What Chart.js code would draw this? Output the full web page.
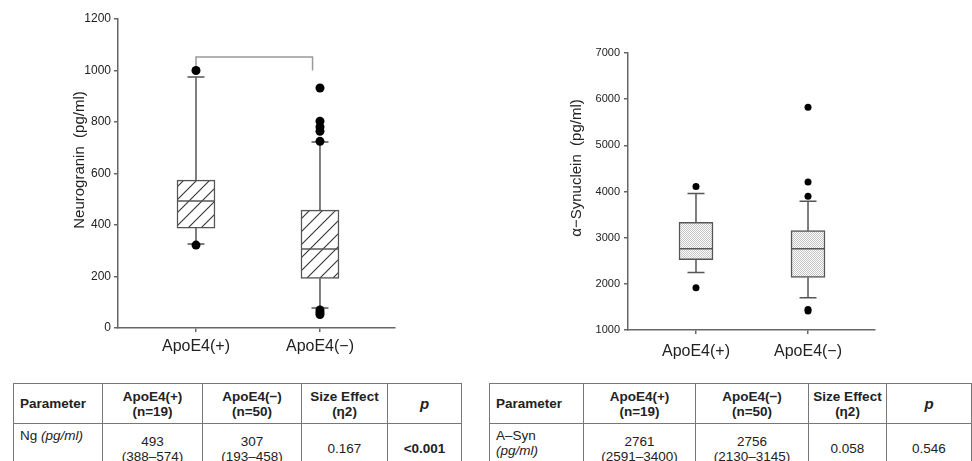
<!DOCTYPE html>
<html>
<head>
<meta charset="utf-8">
<script src="https://cdn.jsdelivr.net/npm/chart.js@4.4.1/dist/chart.umd.min.js"></script>
<style>
	html, body { margin: 0; padding: 0; background: #fff; overflow: hidden; }
	body { width: 972px; height: 461px; position: relative; font-family: 'Liberation Sans', Arial, sans-serif; color: #222; }
	.chart-box { position: absolute; top: 0; width: 486px; height: 370px; }
	#ngBox { left: 0; }
	#synBox { left: 486px; }
	table { position: absolute; top: 383px; border-collapse: collapse; table-layout: fixed; font-size: 13.5px; line-height: 15px; }
	td, th { border: 1px solid #777; padding: 0 2px; text-align: center; vertical-align: middle; white-space: nowrap; }
	th { height: 39px; font-weight: bold; }
	td { height: 45px; }
	th.param, td.param { text-align: left; padding-left: 6px; }
	td.param { vertical-align: top; padding-top: 4px; }
	.p { font-style: italic; font-size: 15px; }
	i { font-style: italic; }
	#ngTable { left: 13px; width: 448px; }
	#synTable { left: 489px; width: 482px; }
</style>
</head>
<body>
<div class="chart-box" id="ngBox"><canvas id="ngChart"></canvas></div>
<div class="chart-box" id="synBox"><canvas id="synChart"></canvas></div>

<table id="ngTable">
	<colgroup><col style="width:89px"><col style="width:100px"><col style="width:99px"><col style="width:86px"><col style="width:74px"></colgroup>
	<tr><th class="param">Parameter</th><th>ApoE4(+)<br>(n=19)</th><th>ApoE4(&minus;)<br>(n=50)</th><th>Size Effect<br>(&eta;2)</th><th class="p">p</th></tr>
	<tr><td class="param">Ng <i>(pg/ml)</i></td><td>493<br>(388&ndash;574)</td><td>307<br>(193&ndash;458)</td><td>0.167</td><td><b>&lt;0.001</b></td></tr>
</table>

<table id="synTable">
	<colgroup><col style="width:94px"><col style="width:112px"><col style="width:113px"><col style="width:78px"><col style="width:85px"></colgroup>
	<tr><th class="param">Parameter</th><th>ApoE4(+)<br>(n=19)</th><th>ApoE4(&minus;)<br>(n=50)</th><th>Size Effect<br>(&eta;2)</th><th class="p">p</th></tr>
	<tr><td class="param">A&ndash;Syn<br><i>(pg/ml)</i></td><td>2761<br>(2591&ndash;3400)</td><td>2756<br>(2130&ndash;3145)</td><td>0.058</td><td>0.546</td></tr>
</table>

<script>
const groups = ['ApoE4(+)', 'ApoE4(\u2212)'];

// Neurogranin (pg/ml)
const ngLow = [326, 78];
const ngQ1 = [388, 193];
const ngMedian = [493, 307];
const ngQ3 = [574, 458];
const ngHigh = [975, 722];
const ngOutliers = [[1000, 322], [932, 803, 781, 764, 725, 70, 60, 52]];
const ngTicks = [0, 200, 400, 600, 800, 1000, 1200];

// significance bracket between the two groups
const bracketX = [1, 1, 1.94, 1.94];
const bracketY = [1010, 1052, 1052, 1000];

// alpha-Synuclein (pg/ml)
const synLow = [2245, 1696];
const synQ1 = [2522, 2137];
const synMedian = [2760, 2761];
const synQ3 = [3333, 3152];
const synHigh = [3957, 3789];
const synOutliers = [[4109, 1913], [5826, 4204, 3898, 1445, 1413]];
const synTicks = [1000, 2000, 3000, 4000, 5000, 6000, 7000];

const fontFamily = "'Liberation Sans', Arial, sans-serif";
const axisColor = '#666';
const boxColor = '#555';
const textColor = '#222';

function makeHatch() {
	let c = document.createElement('canvas');
	c.width = 13;
	c.height = 13;
	let ctx = c.getContext('2d');
	ctx.fillStyle = '#fff';
	ctx.fillRect(0, 0, 13, 13);
	ctx.strokeStyle = '#333';
	ctx.lineWidth = 1.1;
	ctx.beginPath();
	ctx.moveTo(0, 13); ctx.lineTo(13, 0);
	ctx.moveTo(-3, 3); ctx.lineTo(3, -3);
	ctx.moveTo(10, 16); ctx.lineTo(16, 10);
	ctx.stroke();
	return ctx.createPattern(c, 'repeat');
}

function makeStipple() {
	let c = document.createElement('canvas');
	c.width = 2;
	c.height = 2;
	let ctx = c.getContext('2d');
	ctx.fillStyle = '#fff';
	ctx.fillRect(0, 0, 2, 2);
	ctx.fillStyle = '#c4c4c4';
	ctx.fillRect(0, 0, 1, 1);
	ctx.fillRect(1, 1, 1, 1);
	return ctx.createPattern(c, 'repeat');
}

// whiskers, caps, medians and rotated y title, all placed through the chart scales
function boxPlugin(low, q1, median, q3, high, capHalf, boxHalf, title, titleX, titleY, titleSize) {
	return {
		id: 'boxExtras',
		beforeDatasetsDraw(chart) {
			const ctx = chart.ctx;
			const x = chart.scales.x;
			const y = chart.scales.y;
			ctx.save();
			ctx.strokeStyle = boxColor;
			ctx.lineWidth = 1.5;
			for(let i = 0; i < low.length; i++) {
				let px = x.getPixelForValue(i + 1);
				ctx.beginPath();
				ctx.moveTo(px, y.getPixelForValue(q3[i]));
				ctx.lineTo(px, y.getPixelForValue(high[i]));
				ctx.moveTo(px - capHalf, y.getPixelForValue(high[i]));
				ctx.lineTo(px + capHalf, y.getPixelForValue(high[i]));
				ctx.moveTo(px, y.getPixelForValue(q1[i]));
				ctx.lineTo(px, y.getPixelForValue(low[i]));
				ctx.moveTo(px - capHalf, y.getPixelForValue(low[i]));
				ctx.lineTo(px + capHalf, y.getPixelForValue(low[i]));
				ctx.stroke();
			}
			ctx.restore();
		},
		afterDatasetsDraw(chart) {
			const ctx = chart.ctx;
			const x = chart.scales.x;
			const y = chart.scales.y;
			ctx.save();
			ctx.strokeStyle = boxColor;
			ctx.lineWidth = 1.5;
			for(let i = 0; i < median.length; i++) {
				let px = x.getPixelForValue(i + 1);
				let py = y.getPixelForValue(median[i]);
				ctx.beginPath();
				ctx.moveTo(px - boxHalf, py);
				ctx.lineTo(px + boxHalf, py);
				ctx.stroke();
			}
			ctx.translate(titleX, titleY);
			ctx.rotate(-Math.PI / 2);
			ctx.fillStyle = textColor;
			ctx.font = titleSize + 'px ' + fontFamily;
			ctx.textAlign = 'center';
			ctx.textBaseline = 'middle';
			ctx.fillText(title, 0, 0);
			ctx.restore();
		}
	};
}

function boxChart(id, opts) {
	const datasets = [
		{
			type: 'scatter',
			order: 0,
			data: opts.outliers.flatMap((list, i) => list.map(v => ({x: i + 1, y: v}))),
			pointRadius: opts.dotRadius,
			pointBackgroundColor: '#000',
			pointBorderWidth: 0,
		},
		{
			type: 'bar',
			order: 2,
			data: groups.map((g, i) => ({x: i + 1, y: [opts.q1[i], opts.q3[i]]})),
			barThickness: opts.boxWidth,
			backgroundColor: opts.fill,
			borderColor: boxColor,
			borderWidth: 1.5,
			borderSkipped: false,
		}
	];

	if(opts.bracket) {
		datasets.push({
			type: 'line',
			order: 1,
			data: bracketX.map((v, i) => ({x: v, y: bracketY[i]})),
			borderColor: '#999',
			borderWidth: 1.5,
			pointRadius: 0,
			tension: 0,
			fill: false,
		});
	}

	return new Chart(document.getElementById(id), {
		type: 'bar',
		data: {datasets: datasets},
		options: {
			responsive: true,
			maintainAspectRatio: false,
			animation: false,
			layout: {padding: opts.padding},
			plugins: {legend: {display: false}, tooltip: {enabled: false}},
			scales: {
				x: {
					type: 'linear',
					offset: false,
					bounds: 'ticks',
					min: opts.xMin,
					max: opts.xMax,
					afterBuildTicks: s => { s.ticks = groups.map((g, i) => ({value: i + 1})); },
					afterFit: s => { s.height = opts.xHeight; },
					grid: {drawOnChartArea: false, tickLength: 4, color: axisColor, lineWidth: 1.5, offset: false},
					border: {color: axisColor, width: 1.5},
					ticks: {
						callback: v => groups[v - 1],
						color: textColor,
						padding: opts.xPad,
						font: {family: fontFamily, size: opts.xFont},
						maxRotation: 0,
						autoSkip: false,
					},
				},
				y: {
					min: opts.yTicks[0],
					max: opts.yTicks[opts.yTicks.length - 1],
					afterBuildTicks: s => { s.ticks = opts.yTicks.map(v => ({value: v})); },
					afterFit: s => { s.width = opts.yWidth; },
					grid: {drawOnChartArea: false, tickLength: 4, color: axisColor, lineWidth: 1.5},
					border: {color: axisColor, width: 1.5},
					ticks: {
						callback: v => String(v),
						color: textColor,
						padding: opts.yPad,
						font: {family: fontFamily, size: opts.yFont},
					},
				},
			},
		},
		plugins: [boxPlugin(opts.low, opts.q1, opts.median, opts.q3, opts.high,
			opts.capHalf, opts.boxWidth / 2, opts.title, opts.titleX, opts.titleY, opts.titleSize)],
	});
}

boxChart('ngChart', {
	low: ngLow, q1: ngQ1, median: ngMedian, q3: ngQ3, high: ngHigh,
	outliers: ngOutliers, yTicks: ngTicks, bracket: true,
	fill: makeHatch(), boxWidth: 38, capHalf: 8.5, dotRadius: 4.5,
	padding: {top: 19, right: 91, bottom: 0, left: 0},
	xMin: 0.371, xMax: 2.605, xHeight: 42, xPad: 5, xFont: 16,
	yWidth: 118, yPad: 3, yFont: 12,
	title: 'Neurogranin  (pg/ml)', titleX: 80, titleY: 160, titleSize: 15,
});

boxChart('synChart', {
	low: synLow, q1: synQ1, median: synMedian, q3: synQ3, high: synHigh,
	outliers: synOutliers, yTicks: synTicks, bracket: false,
	fill: makeStipple(), boxWidth: 34, capHalf: 8.5, dotRadius: 3.5,
	padding: {top: 53, right: 97, bottom: 0, left: 0},
	xMin: 0.393, xMax: 2.598, xHeight: 40, xPad: 8, xFont: 16,
	yWidth: 142, yPad: 4, yFont: 11,
	title: '\u03b1\u2212Synuclein  (pg/ml)', titleX: 91, titleY: 168, titleSize: 15,
});
</script>
</body>
</html>
